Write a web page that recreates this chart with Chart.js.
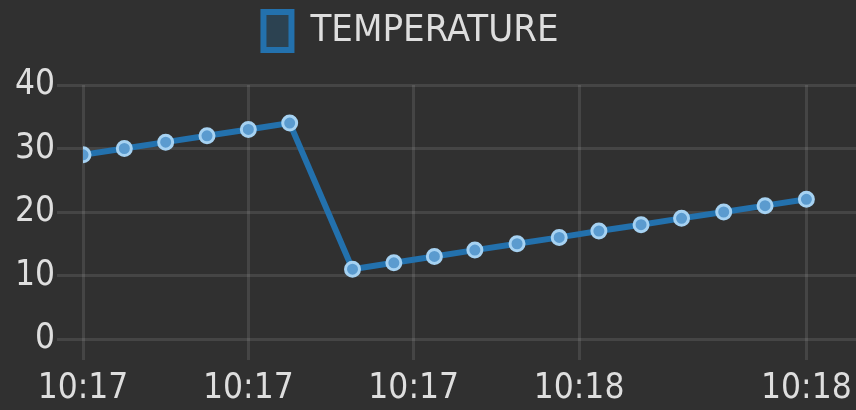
<!DOCTYPE html>
<html>
<head>
<meta charset="utf-8">
<script src="https://cdn.jsdelivr.net/npm/chart.js@4.4.1/dist/chart.umd.min.js"></script>
<style>
  html, body { margin: 0; padding: 0; background: #303030; }
  #wrap { width: 856px; height: 410px; position: relative; }
</style>
</head>
<body>
<div id="wrap"><canvas id="temp-chart"></canvas></div>
<script>
// seconds after 10:17:05 for each reading
const times = [0, 5, 10, 15, 20, 25, 32.6, 37.6, 42.5, 47.4, 52.5, 57.6, 62.4, 67.5, 72.4, 77.5, 82.5, 87.5];
const temperature = [29, 30, 31, 32, 33, 34, 11, 12, 13, 14, 15, 16, 17, 18, 19, 20, 21, 22];
const xTicks = [0, 20, 40, 60, 87.5];
const yTicks = [0, 10, 20, 30, 40];
const startSeconds = 10 * 3600 + 17 * 60 + 5;

function clockLabel(offset) {
  const secs = startSeconds + offset;
  const h = Math.floor(secs / 3600);
  const m = Math.floor((secs % 3600) / 60);
  return h + ':' + String(m).padStart(2, '0');
}

Chart.defaults.font.family = '"Liberation Sans Narrow", "DejaVu Sans Condensed", "Liberation Sans", Arial, sans-serif';
Chart.defaults.color = '#dedede';

// a bit more room under the legend, and nudge it left like the original
const legendSpacer = {
  id: 'legendSpacer',
  beforeInit(chart) {
    const fitLegend = chart.legend.fit;
    chart.legend.fit = function () {
      fitLegend.bind(chart.legend)();
      this.height += 25;
    };
  },
  afterLayout(chart) {
    chart.legend.right -= 34;
  }
};

const ctx = document.getElementById('temp-chart');

const chart = new Chart(ctx, {
  type: 'line',
  data: {
    datasets: [
      {
        label: 'TEMPERATURE',
        data: times.map((t, i) => ({ x: t, y: temperature[i] })),
        borderColor: '#2371ad',
        backgroundColor: 'rgba(31,119,180,0.25)',
        borderWidth: 6,
        pointRadius: 7,
        pointBorderWidth: 3,
        pointBorderColor: '#a6d2f2',
        pointBackgroundColor: '#5b9bcf',
        tension: 0,
        fill: false
      }
    ]
  },
  options: {
    responsive: true,
    maintainAspectRatio: false,
    animation: false,
    layout: {
      autoPadding: false,
      padding: { top: 0, right: 0, bottom: 0, left: 0 }
    },
    plugins: {
      legend: {
        display: true,
        position: 'top',
        labels: {
          boxWidth: 28,
          boxHeight: 38,
          padding: 12,
          color: '#dedede',
          font: { size: 38 }
        }
      },
      tooltip: { enabled: false }
    },
    scales: {
      x: {
        type: 'linear',
        min: 0,
        max: 93.5,
        afterBuildTicks: function (axis) {
          axis.ticks = xTicks.map(v => ({ value: v }));
        },
        afterFit: function (scale) {
          scale.paddingLeft = 0;
          scale.paddingRight = 0;
          scale.height = 71;
        },
        ticks: {
          autoSkip: false,
          maxRotation: 0,
          padding: 8,
          font: { size: 35 },
          callback: function (value) {
            return clockLabel(value);
          }
        },
        grid: {
          color: 'rgba(255,255,255,0.1)',
          lineWidth: 3,
          tickLength: 21
        },
        border: { display: false }
      },
      y: {
        min: 0,
        max: 40,
        afterBuildTicks: function (axis) {
          axis.ticks = yTicks.map(v => ({ value: v }));
        },
        afterFit: function (scale) {
          scale.width = 83;
        },
        ticks: {
          padding: 2,
          font: { size: 35 }
        },
        grid: {
          color: 'rgba(255,255,255,0.1)',
          lineWidth: 3,
          tickLength: 26
        },
        border: { display: false }
      }
    }
  },
  plugins: [legendSpacer]
});
</script>
</body>
</html>
